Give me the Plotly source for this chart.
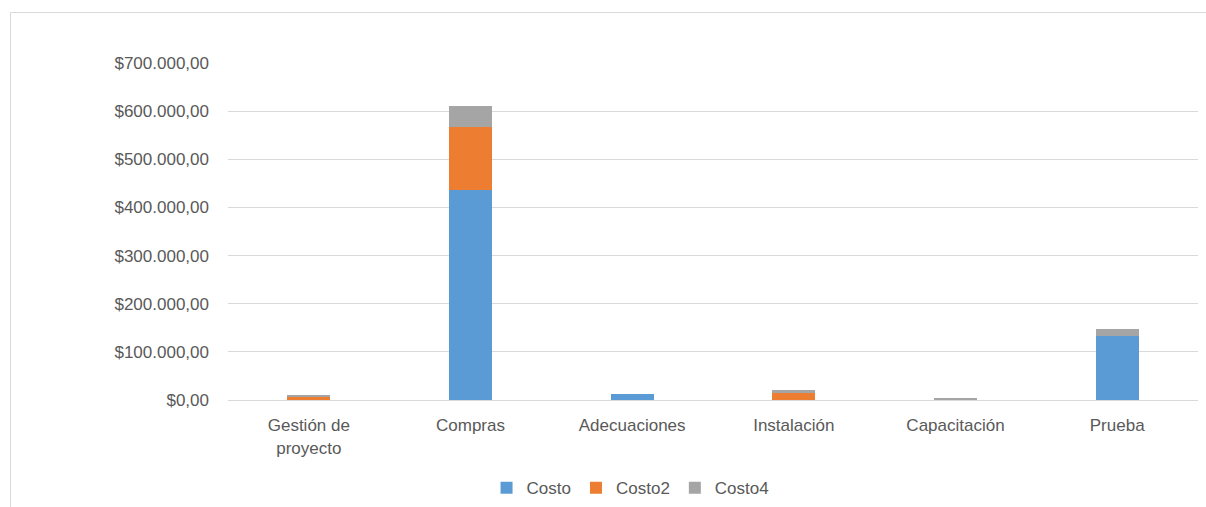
import plotly.graph_objects as go

categories = ["Gestión de<br>proyecto", "Compras", "Adecuaciones", "Instalación", "Capacitación", "Prueba"]
costo = [0, 436000, 12500, 0, 0, 133500]
costo2 = [6500, 132000, 0, 16500, 0, 0]
costo4 = [2000, 43000, 0, 3500, 5000, 14500]
tick_vals = [0, 100000, 200000, 300000, 400000, 500000, 600000, 700000]
tick_text = ["$0,00", "$100.000,00", "$200.000,00", "$300.000,00", "$400.000,00",
             "$500.000,00", "$600.000,00", "$700.000,00"]

W, H = 1206, 507
L, R, T, B = 228, 8, 63, 107
pw, ph = W - L - R, H - T - B

font = dict(family="Liberation Sans, Arial, sans-serif", size=17, color="#595959")

fig = go.Figure()
fig.add_trace(go.Bar(name="Costo", x=categories, y=costo, marker=dict(color="#5B9BD5", line=dict(width=0))))
fig.add_trace(go.Bar(name="Costo2", x=categories, y=costo2, marker=dict(color="#ED7D31", line=dict(width=0))))
fig.add_trace(go.Bar(name="Costo4", x=categories, y=costo4, marker=dict(color="#A5A5A5", line=dict(width=0))))

fig.update_layout(
    barmode="stack",
    bargap=0.736,
    width=W, height=H,
    margin=dict(l=L, r=R, t=T, b=B, autoexpand=False),
    paper_bgcolor="white",
    plot_bgcolor="white",
    font=font,
    showlegend=True,
    legend=dict(orientation="h", x=0.415, xanchor="center", y=-0.208, yanchor="top",
                traceorder="normal", font=font, itemwidth=30, tracegroupgap=0),
    yaxis=dict(range=[0, 700000], tickvals=tick_vals, ticktext=tick_text, automargin=False,
               showgrid=True, gridcolor="#D9D9D9", gridwidth=1,
               zeroline=True, zerolinecolor="#D9D9D9", zerolinewidth=1,
               ticks="", ticklen=0, showline=False, tickfont=font, ticklabelstandoff=18),
    xaxis=dict(showgrid=False, ticks="", showline=True, linecolor="#D9D9D9", linewidth=1,
               automargin=False, tickfont=font, ticklabelstandoff=10),
    shapes=[dict(type="rect", xref="paper", yref="paper",
                 x0=(10.5 - L) / pw, x1=(W + 20 - L) / pw,
                 y0=(T + ph - (H + 20)) / ph, y1=(T + ph - 12.5) / ph,
                 line=dict(color="#D9D9D9", width=1), fillcolor="rgba(0,0,0,0)", layer="below")],
)

fig.write_html("out.html")
